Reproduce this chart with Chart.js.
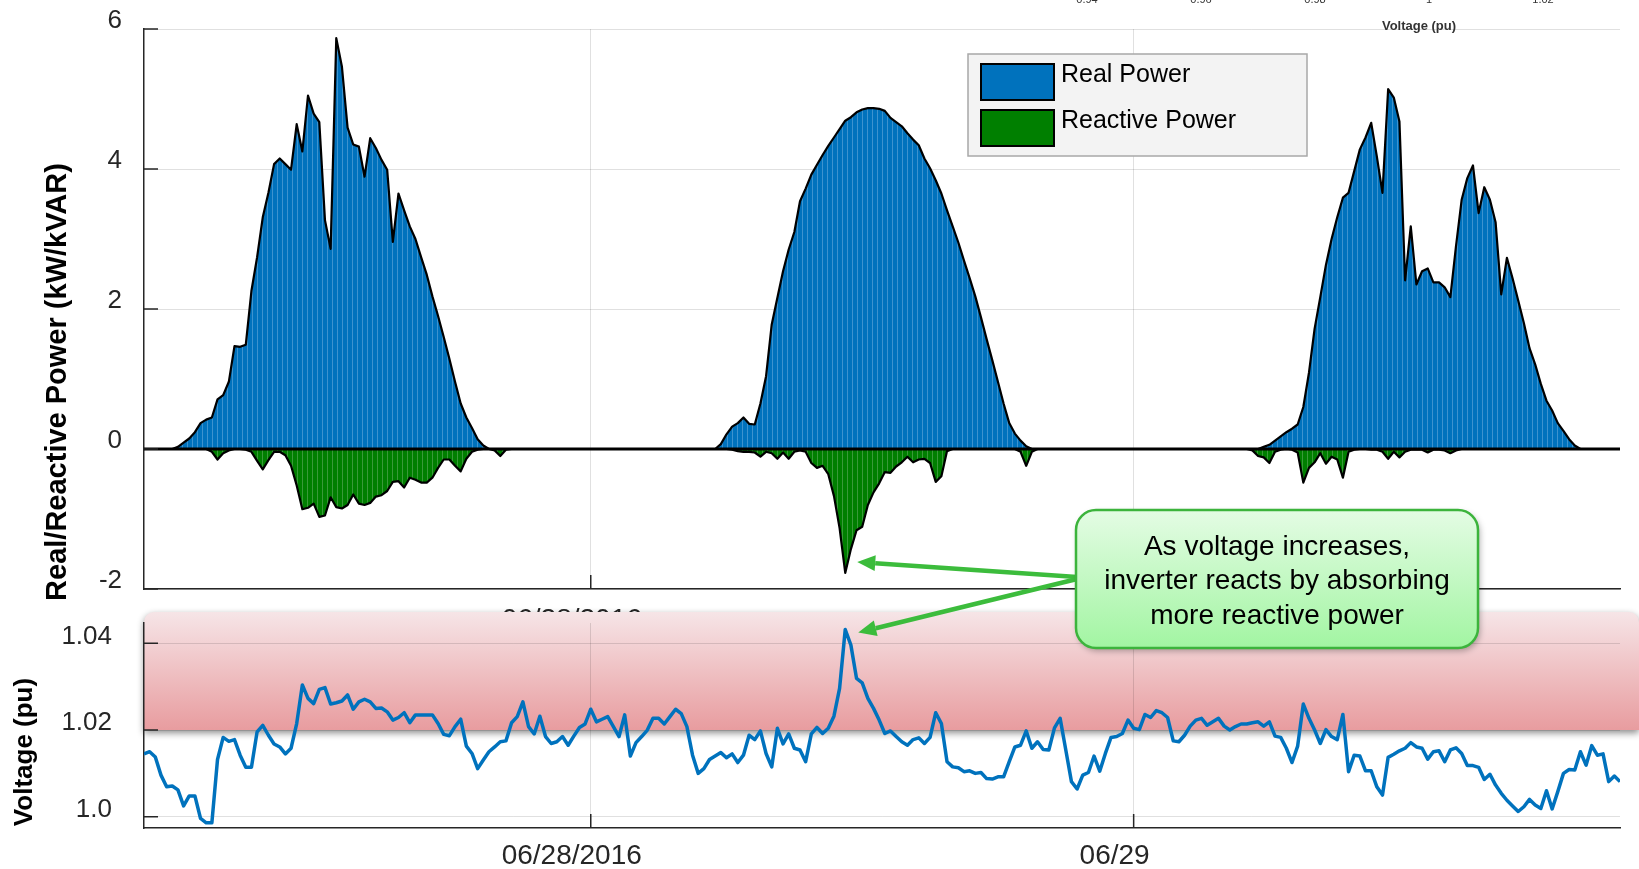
<!DOCTYPE html>
<html>
<head>
<meta charset="utf-8">
<script src="https://cdn.jsdelivr.net/npm/chart.js@4.4.1/dist/chart.umd.min.js"></script>
<style>
  body { margin: 0; background: #fff; }
  #wrap { position: relative; width: 1639px; height: 869px; overflow: hidden; }
  #wrap canvas { position: absolute; left: 0; }
  #powerChart { top: 0; }
  #voltChart { top: 500px; }
</style>
</head>
<body>
<div id="wrap">
  <canvas id="powerChart" width="1639" height="650"></canvas>
  <canvas id="voltChart" width="1639" height="369"></canvas>
</div>
<script>
// 15 minute samples, hours counted from 06/28 00:00
var startHour = -19.75;
var stepHour = 0.25;

var seriesNames = ['Real Power', 'Reactive Power'];

// kW
var realPower = [
  0, 0, 0, 0, 0,
  0, 0.03, 0.09, 0.15, 0.24, 0.37, 0.42, 0.45, 0.71, 0.77,
  0.96, 1.47, 1.46, 1.49, 2.26, 2.74, 3.31, 3.66, 4.07, 4.15,
  4.07, 3.99, 4.64, 4.25, 5.05, 4.79, 4.67, 3.27, 2.86, 5.87,
  5.46, 4.59, 4.35, 4.32, 3.89, 4.44, 4.30, 4.13, 3.99, 2.96,
  3.65, 3.41, 3.18, 3.00, 2.74, 2.49, 2.18, 1.90, 1.60, 1.29,
  0.96, 0.65, 0.45, 0.30, 0.14, 0.05, 0,
  0, 0, 0, 0, 0, 0, 0, 0, 0, 0,
  0, 0, 0, 0, 0, 0, 0, 0, 0, 0,
  0, 0, 0, 0, 0, 0, 0, 0, 0, 0,
  0, 0, 0, 0, 0, 0, 0, 0, 0, 0,
  0.07, 0.21, 0.32, 0.37, 0.45, 0.36, 0.35, 0.65, 1.04, 1.78,
  2.16, 2.54, 2.85, 3.10, 3.54, 3.72, 3.92, 4.06, 4.20, 4.33,
  4.45, 4.57, 4.69, 4.74, 4.81, 4.85, 4.87, 4.87, 4.86, 4.83,
  4.73, 4.67, 4.61, 4.51, 4.42, 4.34, 4.15, 4.01, 3.84, 3.65,
  3.41, 3.18, 2.95, 2.69, 2.44, 2.18, 1.88, 1.57, 1.27, 0.96,
  0.65, 0.37, 0.22, 0.12, 0.04, 0,
  0, 0, 0, 0, 0, 0, 0, 0, 0, 0,
  0, 0, 0, 0, 0, 0, 0, 0, 0, 0,
  0, 0, 0, 0, 0, 0, 0, 0, 0, 0,
  0, 0, 0, 0, 0, 0, 0, 0, 0, 0,
  0.03, 0.06, 0.12, 0.18, 0.24, 0.29, 0.35, 0.60, 1.09, 1.72,
  2.17, 2.63, 3.00, 3.31, 3.59, 3.66, 3.97, 4.28, 4.45, 4.66,
  4.18, 3.66, 5.14, 5.02, 4.68, 2.41, 3.18, 2.35, 2.54, 2.58,
  2.38, 2.38, 2.31, 2.17, 2.90, 3.56, 3.87, 4.05, 3.37, 3.74,
  3.56, 3.24, 2.21, 2.73, 2.44, 2.12, 1.80, 1.44, 1.21, 0.93,
  0.69, 0.55, 0.37, 0.26, 0.14, 0.05, 0,
  0, 0, 0, 0, 0, 0, 0
];

// kVAR
var reactivePower = [
  0, 0, 0, 0, 0, 0, 0, 0, 0, 0, 0, 0,
  -0.04, -0.15, -0.06, -0.02, 0, 0, -0.01, -0.04, -0.17, -0.29,
  -0.16, -0.04, -0.04, -0.09, -0.24, -0.52, -0.86, -0.84, -0.78, -0.97,
  -0.95, -0.69, -0.83, -0.85, -0.80, -0.65, -0.78, -0.80, -0.77, -0.68,
  -0.66, -0.60, -0.47, -0.46, -0.55, -0.41, -0.44, -0.48, -0.48, -0.41,
  -0.27, -0.15, -0.15, -0.24, -0.32, -0.14, -0.04, -0.01, 0, 0,
  -0.02, -0.10, -0.01,
  0, 0, 0, 0, 0, 0, 0, 0, 0, 0,
  0, 0, 0, 0, 0, 0, 0, 0, 0, 0,
  0, 0, 0, 0, 0, 0, 0, 0, 0, 0,
  0, 0, 0, 0, 0, 0, 0, 0, 0,
  -0.01, -0.03, -0.04, -0.04, -0.05, -0.11, -0.04, -0.06, -0.14, -0.05,
  -0.14, -0.04, -0.02, -0.04, -0.20, -0.27, -0.24, -0.36, -0.67, -1.13,
  -1.77, -1.43, -1.16, -1.11, -0.80, -0.62, -0.49, -0.33, -0.34, -0.25,
  -0.19, -0.11, -0.19, -0.15, -0.14, -0.20, -0.47, -0.39, -0.03,
  0, 0, 0, 0, 0, 0, 0, 0, 0, 0, 0, 0,
  -0.04, -0.24, -0.04,
  0, 0, 0, 0, 0, 0, 0, 0, 0, 0,
  0, 0, 0, 0, 0, 0, 0, 0, 0, 0,
  0, 0, 0, 0, 0, 0, 0, 0, 0, 0,
  0, 0, 0, 0, 0, 0, 0, 0,
  -0.02, -0.10, -0.12, -0.20, -0.04, -0.01, 0, -0.01, -0.05, -0.48,
  -0.27, -0.19, -0.06, -0.21, -0.11, -0.15, -0.41, -0.04, -0.01, 0,
  0, -0.01, -0.01, -0.04, -0.14, -0.04, -0.12, -0.04, -0.01, -0.01,
  -0.01, -0.05, -0.01, -0.01, -0.02, -0.06, -0.02,
  0, 0, 0, 0, 0, 0, 0, 0, 0, 0,
  0, 0, 0, 0, 0, 0, 0, 0, 0, 0,
  0, 0, 0, 0, 0, 0, 0, 0, 0
];

// pu
var voltage = [
  1.0145, 1.0150, 1.0138, 1.0096, 1.0069, 1.0071, 1.0062, 1.0025, 1.0048, 1.0048,
  0.9996, 0.9986, 0.9986, 1.0132, 1.0183, 1.0174, 1.0178, 1.0142, 1.0114, 1.0114,
  1.0196, 1.0211, 1.0188, 1.0168, 1.0161, 1.0145, 1.0158, 1.0215, 1.0304, 1.0273,
  1.0261, 1.0294, 1.0298, 1.0260, 1.0263, 1.0267, 1.0281, 1.0248, 1.0265, 1.0271,
  1.0265, 1.0250, 1.0251, 1.0242, 1.0223, 1.0229, 1.0240, 1.0217, 1.0235, 1.0235,
  1.0235, 1.0235, 1.0215, 1.0190, 1.0187, 1.0208, 1.0225, 1.0163, 1.0146, 1.0111,
  1.0131, 1.0150, 1.0161, 1.0173, 1.0175, 1.0217, 1.0231, 1.0265, 1.0208, 1.0191,
  1.0232, 1.0185, 1.0169, 1.0173, 1.0185, 1.0165, 1.0186, 1.0206, 1.0214, 1.0248,
  1.0219, 1.0225, 1.0231, 1.0208, 1.0185, 1.0235, 1.0140, 1.0171, 1.0185, 1.0200,
  1.0227, 1.0227, 1.0214, 1.0231, 1.0248, 1.0238, 1.0208, 1.0142, 1.0100, 1.0111,
  1.0132, 1.0140, 1.0148, 1.0136, 1.0145, 1.0125, 1.0142, 1.0188, 1.0178, 1.0198,
  1.0146, 1.0115, 1.0204, 1.0168, 1.0191, 1.0158, 1.0154, 1.0127, 1.0191, 1.0206,
  1.0192, 1.0204, 1.0232, 1.0296, 1.0432, 1.0396, 1.0319, 1.0309, 1.0273, 1.0250,
  1.0223, 1.0192, 1.0198, 1.0185, 1.0173, 1.0165, 1.0178, 1.0182, 1.0169, 1.0183,
  1.0240, 1.0215, 1.0127, 1.0115, 1.0113, 1.0104, 1.0106, 1.0100, 1.0102, 1.0088,
  1.0087, 1.0092, 1.0092, 1.0127, 1.0161, 1.0165, 1.0198, 1.0158, 1.0173, 1.0155,
  1.0154, 1.0205, 1.0227, 1.0154, 1.0081, 1.0064, 1.0096, 1.0102, 1.0140, 1.0105,
  1.0146, 1.0183, 1.0185, 1.0192, 1.0223, 1.0204, 1.0201, 1.0236, 1.0229, 1.0245,
  1.0240, 1.0229, 1.0175, 1.0173, 1.0188, 1.0209, 1.0223, 1.0227, 1.0211, 1.0219,
  1.0227, 1.0209, 1.0200, 1.0208, 1.0214, 1.0214, 1.0217, 1.0219, 1.0209, 1.0219,
  1.0186, 1.0183, 1.0158, 1.0125, 1.0163, 1.0260, 1.0227, 1.0200, 1.0169, 1.0201,
  1.0185, 1.0178, 1.0236, 1.0104, 1.0142, 1.0140, 1.0106, 1.0106, 1.0069, 1.0050,
  1.0137, 1.0144, 1.0152, 1.0158, 1.0171, 1.0161, 1.0158, 1.0133, 1.0150, 1.0152,
  1.0127, 1.0154, 1.0159, 1.0146, 1.0118, 1.0118, 1.0114, 1.0086, 1.0098, 1.0073,
  1.0054, 1.0038, 1.0025, 1.0012, 1.0023, 1.0040, 1.0027, 1.0019, 1.0060, 1.0018,
  1.0058, 1.0100, 1.0109, 1.0108, 1.0150, 1.0119, 1.0164, 1.0142, 1.0145, 1.0081,
  1.0094, 1.0081
];

var dayTicks = [0, 24];
var dayTickLabels = ['06/28/2016', '06/29'];
var powerTicks = [-2, 0, 2, 4, 6];
var voltageTicks = [1.0, 1.02, 1.04];
var voltageTickLabels = ['1.0', '1.02', '1.04'];
var voltageLimit = 1.02;
var insetTickLabels = ['0.94', '0.96', '0.98', '1', '1.02'];
var insetTitle = 'Voltage (pu)';
var calloutLines = ['As voltage increases,', 'inverter reacts by absorbing', 'more reactive power'];

var timeHours = voltage.map(function (_, i) { return startHour + i * stepHour; });
function pairs(values) {
  return values.map(function (v, i) { return { x: timeHours[i], y: v }; });
}

var FONT = "'Liberation Sans', Arial, Helvetica, sans-serif";
var INK = '#262626';
var GRID = 'rgba(0,0,0,0.12)';
var voltTop = 500; // page offset of the lower canvas
Chart.defaults.font.family = FONT;
Chart.defaults.color = INK;

// fixed axis boxes so the plot areas land where the original ones are
function fixWidth(w) {
  return function (s) { s.width = w; s.paddingTop = 0; s.paddingBottom = 0; };
}
function fixHeight(h) {
  return function (s) { s.height = h; s.paddingLeft = 0; s.paddingRight = 0; };
}

// thin light vertical streaks, like the exported area fill
function streaks(canvasId, base, light) {
  var c = document.createElement('canvas');
  c.width = 5; c.height = 1;
  var g = c.getContext('2d');
  g.fillStyle = base; g.fillRect(0, 0, 5, 1);
  g.fillStyle = light; g.fillRect(2, 0, 1, 1);
  return document.getElementById(canvasId).getContext('2d').createPattern(c, 'repeat');
}

var innerTicks = {
  id: 'innerTicks',
  afterDraw: function (chart) {
    var ctx = chart.ctx, a = chart.chartArea, x = chart.scales.x, y = chart.scales.y;
    ctx.save();
    ctx.strokeStyle = INK;
    ctx.lineWidth = 1.5;
    ctx.beginPath();
    x.ticks.forEach(function (t) {
      var px = x.getPixelForValue(t.value);
      ctx.moveTo(px, a.bottom); ctx.lineTo(px, a.bottom - 14);
    });
    y.ticks.forEach(function (t) {
      var py = y.getPixelForValue(t.value);
      ctx.moveTo(a.left, py); ctx.lineTo(a.left + 14, py);
    });
    ctx.stroke();
    ctx.restore();
  }
};

var sideTitle = {
  id: 'sideTitle',
  afterDraw: function (chart, args, opts) {
    var ctx = chart.ctx;
    ctx.save();
    ctx.translate(opts.x, opts.y);
    ctx.rotate(-Math.PI / 2);
    ctx.font = 'bold ' + opts.size + 'px ' + FONT;
    ctx.fillStyle = '#000';
    ctx.textAlign = 'center';
    ctx.textBaseline = 'middle';
    ctx.fillText(opts.text, 0, 0);
    ctx.restore();
  }
};

var zeroLine = {
  id: 'zeroLine',
  afterDatasetsDraw: function (chart) {
    var ctx = chart.ctx, a = chart.chartArea;
    var y0 = chart.scales.y.getPixelForValue(0);
    ctx.save();
    ctx.strokeStyle = '#000';
    ctx.lineWidth = 3;
    ctx.beginPath();
    ctx.moveTo(a.left, y0); ctx.lineTo(a.right, y0);
    ctx.stroke();
    ctx.restore();
  }
};

var legendBox = {
  id: 'legendBox',
  afterDraw: function (chart) {
    var ctx = chart.ctx;
    var colors = ['#0072bd', '#007f00'];
    ctx.save();
    ctx.fillStyle = '#f3f3f3';
    ctx.fillRect(968, 54, 339, 102);
    ctx.strokeStyle = '#a8a8a8';
    ctx.lineWidth = 1.5;
    ctx.strokeRect(968, 54, 339, 102);
    ctx.font = '25px ' + FONT;
    ctx.textBaseline = 'middle';
    seriesNames.forEach(function (name, k) {
      var sy = 64 + k * 46;
      ctx.fillStyle = colors[k];
      ctx.fillRect(981, sy, 73, 36);
      ctx.strokeStyle = '#000';
      ctx.lineWidth = 2;
      ctx.strokeRect(981, sy, 73, 36);
      ctx.fillStyle = '#000';
      ctx.fillText(name, 1061, sy + 11);
    });
    ctx.restore();
  }
};

// leftover axis text from a neighbouring figure, cut by the top edge
var insetAxis = {
  id: 'insetAxis',
  afterDraw: function (chart) {
    var ctx = chart.ctx;
    ctx.save();
    ctx.fillStyle = '#333';
    ctx.textAlign = 'center';
    ctx.textBaseline = 'middle';
    ctx.font = '11px ' + FONT;
    insetTickLabels.forEach(function (t, k) { ctx.fillText(t, 1087 + k * 114, 0); });
    ctx.font = 'bold 13px ' + FONT;
    ctx.fillText(insetTitle, 1419, 26);
    ctx.restore();
  }
};

var topChart = new Chart(document.getElementById('powerChart'), {
  type: 'line',
  data: {
    datasets: [
      {
        label: seriesNames[0],
        data: pairs(realPower),
        borderColor: '#000',
        borderWidth: 2.2,
        backgroundColor: streaks('powerChart', '#0072bd', '#3d93cf'),
        fill: 'origin'
      },
      {
        label: seriesNames[1],
        data: pairs(reactivePower),
        borderColor: '#000',
        borderWidth: 2.2,
        backgroundColor: streaks('powerChart', '#007f00', '#3a9a3a'),
        fill: 'origin'
      }
    ]
  },
  options: {
    responsive: false,
    animation: false,
    devicePixelRatio: 1,
    events: [],
    layout: { padding: { top: 29, right: 19, bottom: 0, left: 0 } },
    elements: { point: { radius: 0 }, line: { tension: 0, borderJoinStyle: 'round' } },
    plugins: {
      legend: { display: false },
      tooltip: { enabled: false },
      sideTitle: { text: 'Real/Reactive Power (kW/kVAR)', x: 58, y: 382, size: 29 }
    },
    scales: {
      x: {
        type: 'linear',
        min: startHour,
        max: startHour + (voltage.length - 1) * stepHour,
        afterBuildTicks: function (s) { s.ticks = dayTicks.map(function (v) { return { value: v }; }); },
        afterFit: fixHeight(61),
        grid: { color: GRID, drawTicks: false },
        border: { color: INK, width: 1.5 },
        ticks: {
          autoSkip: false, maxRotation: 0, padding: 14, labelOffset: -19,
          font: { size: 28 },
          callback: function (v, i) { return dayTickLabels[i]; }
        }
      },
      y: {
        min: -2,
        max: 6,
        afterBuildTicks: function (s) { s.ticks = powerTicks.map(function (v) { return { value: v }; }); },
        afterFit: fixWidth(144),
        grid: { color: GRID, drawTicks: false },
        border: { color: INK, width: 1.5 },
        ticks: { padding: 22, labelOffset: -8.5, font: { size: 26 } }
      }
    }
  },
  plugins: [zeroLine, innerTicks, legendBox, insetAxis, sideTitle]
});

// red band above the voltage limit, drawn under the grid
var limitBand = {
  id: 'limitBand',
  beforeDraw: function (chart) {
    var ctx = chart.ctx, a = chart.chartArea;
    var top = a.top - 11;
    var bottom = chart.scales.y.getPixelForValue(voltageLimit);
    var g = ctx.createLinearGradient(0, top, 0, bottom);
    g.addColorStop(0, '#f6e5e7');
    g.addColorStop(1, '#e89c9f');
    ctx.save();
    ctx.shadowColor = 'rgba(0,0,0,0.45)';
    ctx.shadowBlur = 7;
    ctx.shadowOffsetY = 3;
    ctx.fillStyle = g;
    ctx.beginPath();
    ctx.roundRect(a.left, top, chart.width - a.left, bottom - top, [10, 10, 0, 0]);
    ctx.fill();
    ctx.restore();
  }
};

function drawArrow(ctx, x1, y1, x2, y2) {
  var ang = Math.atan2(y2 - y1, x2 - x1);
  var head = 18, half = 8;
  var bx = x2 - head * Math.cos(ang), by = y2 - head * Math.sin(ang);
  ctx.beginPath();
  ctx.moveTo(x1, y1); ctx.lineTo(bx, by);
  ctx.stroke();
  ctx.beginPath();
  ctx.moveTo(x2, y2);
  ctx.lineTo(bx + half * Math.sin(ang), by - half * Math.cos(ang));
  ctx.lineTo(bx - half * Math.sin(ang), by + half * Math.cos(ang));
  ctx.closePath();
  ctx.fill();
}

var callout = {
  id: 'callout',
  afterDraw: function (chart) {
    var ctx = chart.ctx;
    var box = { x: 1076, y: 510 - voltTop, w: 402, h: 138 };
    // arrow targets come from the data: deepest reactive dip and voltage peak
    var iMin = reactivePower.indexOf(Math.min.apply(null, reactivePower));
    var qx = topChart.scales.x.getPixelForValue(timeHours[iMin]);
    var qy = topChart.scales.y.getPixelForValue(reactivePower[iMin]) - voltTop;
    var iMax = voltage.indexOf(Math.max.apply(null, voltage));
    var vx = chart.scales.x.getPixelForValue(timeHours[iMax]);
    var vy = chart.scales.y.getPixelForValue(voltage[iMax]);
    var sx = box.x + 1, sy = 577 - voltTop;

    ctx.save();
    ctx.strokeStyle = '#3cbc3c';
    ctx.fillStyle = '#3cbc3c';
    ctx.lineWidth = 4.5;
    drawArrow(ctx, sx, sy, qx + 12, qy - 11);
    drawArrow(ctx, sx, sy + 2, vx + 13, vy + 3);

    var g = ctx.createLinearGradient(0, box.y, 0, box.y + box.h);
    g.addColorStop(0, '#e4fce4');
    g.addColorStop(1, '#a2f5a2');
    ctx.shadowColor = 'rgba(0,0,0,0.3)';
    ctx.shadowBlur = 6;
    ctx.shadowOffsetX = 2;
    ctx.shadowOffsetY = 3;
    ctx.fillStyle = g;
    ctx.beginPath();
    ctx.roundRect(box.x, box.y, box.w, box.h, 20);
    ctx.fill();
    ctx.shadowColor = 'transparent';
    ctx.strokeStyle = '#3cb43c';
    ctx.lineWidth = 2.5;
    ctx.stroke();

    ctx.fillStyle = '#000';
    ctx.font = '28px ' + FONT;
    ctx.textAlign = 'center';
    ctx.textBaseline = 'middle';
    calloutLines.forEach(function (line, k) {
      ctx.fillText(line, box.x + box.w / 2, box.y + 37 + k * 34.5);
    });
    ctx.restore();
  }
};

var voltChart = new Chart(document.getElementById('voltChart'), {
  type: 'line',
  data: {
    datasets: [{
      label: 'Voltage',
      data: pairs(voltage),
      borderColor: '#0072bd',
      borderWidth: 3.5,
      fill: false
    }]
  },
  options: {
    responsive: false,
    animation: false,
    devicePixelRatio: 1,
    events: [],
    layout: { padding: { top: 123, right: 19, bottom: 0, left: 0 } },
    elements: { point: { radius: 0 }, line: { tension: 0, borderJoinStyle: 'round' } },
    plugins: {
      legend: { display: false },
      tooltip: { enabled: false },
      sideTitle: { text: 'Voltage (pu)', x: 25, y: 752 - voltTop, size: 26 }
    },
    scales: {
      x: {
        type: 'linear',
        min: startHour,
        max: startHour + (voltage.length - 1) * stepHour,
        afterBuildTicks: function (s) { s.ticks = dayTicks.map(function (v) { return { value: v }; }); },
        afterFit: fixHeight(41),
        grid: { color: GRID, drawTicks: false },
        border: { color: INK, width: 1.5 },
        ticks: {
          autoSkip: false, maxRotation: 0, padding: 11, labelOffset: -19,
          font: { size: 28 },
          callback: function (v, i) { return dayTickLabels[i]; }
        }
      },
      y: {
        min: 0.9974,
        max: 1.0447,
        afterBuildTicks: function (s) { s.ticks = voltageTicks.map(function (v) { return { value: v }; }); },
        afterFit: fixWidth(144),
        grid: { color: GRID, drawTicks: false },
        border: { color: INK, width: 1.5 },
        ticks: {
          padding: 32, labelOffset: -7, font: { size: 26 },
          callback: function (v, i) { return voltageTickLabels[i]; }
        }
      }
    }
  },
  plugins: [limitBand, innerTicks, sideTitle, callout]
});
</script>
</body>
</html>
